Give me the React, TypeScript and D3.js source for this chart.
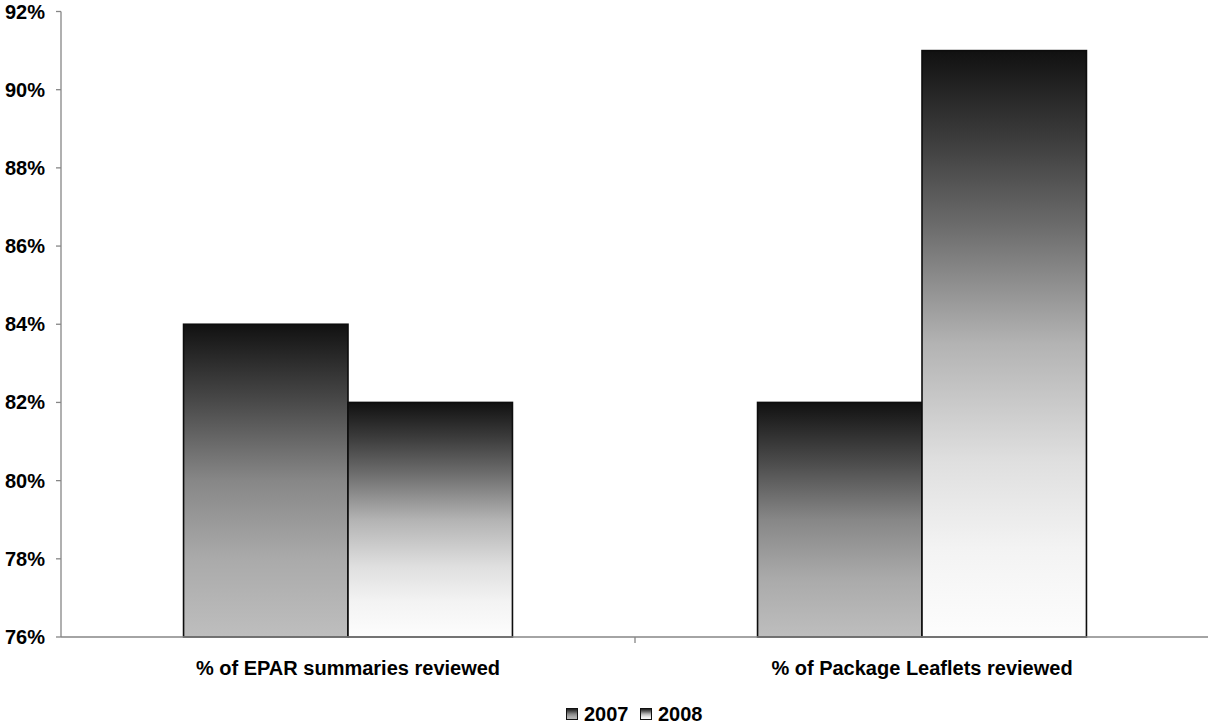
import React from "react";
import * as d3 from "d3";

// Review rates by document type, 2007 vs 2008
const categories = ["% of EPAR summaries reviewed", "% of Package Leaflets reviewed"];
const seriesNames = ["2007", "2008"];
const values2007 = [0.84, 0.82];
const values2008 = [0.82, 0.91];
const yTicks = [0.76, 0.78, 0.8, 0.82, 0.84, 0.86, 0.88, 0.9, 0.92];

const W = 1208;
const H = 724;
const margin = { left: 61, right: -1, top: 11.5, bottom: 87 };
const FONT = "'Liberation Sans', Arial, Helvetica, sans-serif";
const FS = 20;

// gradient stops per series: dark top fading to a series-specific light bottom
const gradientStops: [number, string][][] = [
  [
    [0, "#111111"],
    [0.25, "#4a4a4a"],
    [0.5, "#878787"],
    [0.75, "#aaaaaa"],
    [1, "#bebebe"],
  ],
  [
    [0, "#111111"],
    [0.15, "#3c3c3c"],
    [0.3, "#6c6c6c"],
    [0.5, "#b3b3b3"],
    [0.7, "#dfdfdf"],
    [0.85, "#f3f3f3"],
    [1, "#fdfdfd"],
  ],
];

export default function App() {
  const x0 = margin.left;
  const x1 = W - margin.right;
  const y0 = H - margin.bottom;
  const y1 = margin.top;

  const x = d3
    .scaleBand<string>()
    .domain(categories)
    .range([x0, x1])
    .paddingInner(0.427)
    .paddingOuter(0.2135);
  const xs = d3.scaleBand<string>().domain(seriesNames).range([0, x.bandwidth()]);
  const y = d3.scaleLinear().domain([0.76, 0.92]).range([y0, y1]);
  const fmt = d3.format(".0%");

  const series = [values2007, values2008];
  const axisColor = "#868686";

  return (
    <svg
      width={W}
      height={H}
      style={{ position: "absolute", left: 0, top: 0, background: "#fff" }}
      fontFamily={FONT}
      fontWeight="bold"
    >
      <defs>
        {gradientStops.map((stops, i) => (
          <linearGradient key={i} id={`grad${i}`} x1="0" y1="0" x2="0" y2="1">
            {stops.map(([o, c], j) => (
              <stop key={j} offset={o} stopColor={c} />
            ))}
          </linearGradient>
        ))}
      </defs>

      {/* bars */}
      {categories.map((cat, ci) =>
        seriesNames.map((s, si) => {
          const v = series[si][ci];
          const bx = (x(cat) ?? 0) + (xs(s) ?? 0);
          const by = y(v);
          return (
            <rect
              key={`${ci}-${si}`}
              x={bx}
              y={by}
              width={xs.bandwidth()}
              height={y0 - by}
              fill={`url(#grad${si})`}
              stroke="#0d0d0d"
              strokeWidth={1.6}
            />
          );
        })
      )}

      {/* y axis */}
      <line x1={x0} x2={x0} y1={y1} y2={y0} stroke={axisColor} strokeWidth={1.3} />
      {yTicks.map((t) => (
        <g key={t}>
          <line x1={x0 - 5} x2={x0} y1={y(t)} y2={y(t)} stroke={axisColor} strokeWidth={1.3} />
          <text x={x0 - 16} y={y(t)} dy="0.35em" textAnchor="end" fontSize={FS} fill="#000">
            {fmt(t)}
          </text>
        </g>
      ))}

      {/* x axis */}
      <line x1={x0} x2={W} y1={y0} y2={y0} stroke={axisColor} strokeWidth={1.3} />
      {categories.slice(1).map((cat) => {
        const tx = (x(cat) ?? 0) - (x.step() * x.paddingInner()) / 2;
        return <line key={cat} x1={tx} x2={tx} y1={y0} y2={y0 + 6} stroke={axisColor} strokeWidth={1.3} />;
      })}
      {categories.map((cat) => (
        <text
          key={cat}
          x={(x(cat) ?? 0) + x.bandwidth() / 2}
          y={y0 + 30.5}
          dy="0.35em"
          textAnchor="middle"
          fontSize={FS}
          fill="#000"
        >
          {cat}
        </text>
      ))}

      {/* legend */}
      <g transform={`translate(${566}, ${708})`}>
        {seriesNames.map((s, i) => (
          <g key={s} transform={`translate(${i * 74}, 0)`}>
            <rect x={0.5} y={0.5} width={11} height={11} fill={`url(#grad${i})`} stroke="#111" strokeWidth={1} />
            <text x={18} y={6} dy="0.36em" fontSize={FS} fill="#000">
              {s}
            </text>
          </g>
        ))}
      </g>
    </svg>
  );
}
